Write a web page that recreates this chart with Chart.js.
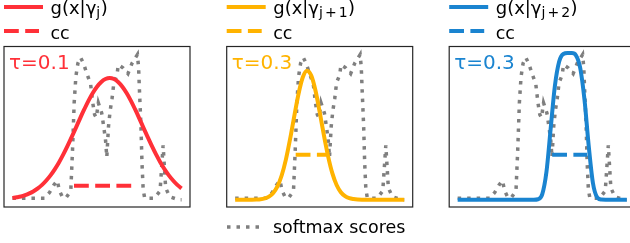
<!DOCTYPE html>
<html>
<head>
<meta charset="utf-8">
<script src="https://cdn.jsdelivr.net/npm/chart.js@4.4.1/dist/chart.umd.min.js"></script>
<style>
  html, body { margin: 0; padding: 0; background: #fff; overflow: hidden; width: 630px; height: 243px; }
  canvas { position: absolute; left: 0; top: 0; }
</style>
</head>
<body>
<canvas id="p0" width="640" height="243" style="width:640px;height:243px"></canvas>
<canvas id="p1" width="640" height="243" style="width:640px;height:243px"></canvas>
<canvas id="p2" width="640" height="243" style="width:640px;height:243px"></canvas>
<script>
// sample positions (frame units) for the g(x|γ) curves
const xs = [0, 2.5, 5, 7.5, 10, 12.5, 15, 17.5, 20, 22.5, 25, 27.5, 30, 32.5, 35, 37.5, 40,
  42.5, 45, 47.5, 50, 52.5, 55, 57.5, 60, 62.5, 65, 67.5, 70, 72.5, 75, 77.5, 80, 82.5,
  85, 87.5, 90, 92.5, 95, 97.5, 100];

const gaussJ = [0.011, 0.016, 0.022, 0.031, 0.043, 0.058, 0.077, 0.101, 0.131, 0.166, 0.207,
  0.254, 0.307, 0.365, 0.427, 0.490, 0.555, 0.617, 0.676, 0.728, 0.771, 0.803, 0.823, 0.830,
  0.823, 0.803, 0.771, 0.728, 0.676, 0.617, 0.555, 0.490, 0.427, 0.365, 0.307, 0.254, 0.207,
  0.166, 0.131, 0.101, 0.077];

const gaussJ1 = [0, 0, 0, 0, 0, 0.001, 0.003, 0.009, 0.021, 0.046, 0.091, 0.165, 0.273, 0.414,
  0.572, 0.723, 0.835, 0.880, 0.847, 0.745, 0.598, 0.438, 0.294, 0.179, 0.100, 0.051, 0.024,
  0.010, 0.004, 0.001, 0, 0, 0, 0, 0, 0, 0, 0, 0, 0, 0];

const gaussJ2 = [0, 0, 0, 0, 0, 0, 0, 0, 0, 0, 0, 0, 0, 0, 0, 0, 0, 0, 0, 0.003, 0.036, 0.188,
  0.484, 0.776, 0.941, 0.994, 1.0, 1.0, 0.984, 0.898, 0.683, 0.368, 0.114, 0.016, 0.001,
  0, 0, 0, 0, 0, 0];

// softmax scores (same in every panel)
const softX = [0, 7, 14, 19, 22, 24.5, 26.5, 27.8, 29.5, 31.5, 34.5, 35.5, 36.5, 37.5, 38.7,
  40.3, 42, 44, 46.2, 47.5, 48.6, 49.6, 50.8, 52.8, 54.2, 55.1, 55.8, 56.8, 57.8, 58.9, 60,
  61.8, 62.6, 65.3, 68.3, 70.7, 73.9, 74.6, 75.2, 76, 76.6, 77.3, 78.2, 84, 87.3, 89.1, 90.6,
  93, 98, 100];
const softY = [0.01, 0.01, 0.01, 0.01, 0.05, 0.10, 0.13, 0.06, 0.02, 0.01, 0.06, 0.33, 0.66,
  0.84, 0.93, 0.97, 0.93, 0.86, 0.79, 0.66, 0.58, 0.56, 0.66, 0.59, 0.48, 0.40, 0.29, 0.50,
  0.61, 0.69, 0.80, 0.85, 0.92, 0.90, 0.86, 0.93, 0.99, 0.90, 0.72, 0.50, 0.25, 0.07, 0.01,
  0.01, 0.06, 0.37, 0.08, 0.02, 0.0, 0.0];

// cc segments
const ccX = [[36.4, 72.5], [35.8, 54.1], [55.9, 76.6]];
const ccY = [0.095, 0.306, 0.306];

const curves = [gaussJ, gaussJ1, gaussJ2];
const taus = ["τ=0.1", "τ=0.3", "τ=0.3"];
const subs = [["j"], ["j", "+", "1"], ["j", "+", "2"]];
const colors = ["#ff3038", "#ffb300", "#1a84d0"];
const gray = "#7f7f7f";

const panelLeft = [4, 226.7, 449.2];
const panelW = 186;
const panelTop = 46.5;
const panelBottom = 207;
const FONT = '"DejaVu Sans", sans-serif';

function drawLabel(ctx, L, i) {
  const c = colors[i];
  ctx.save();
  // handles
  ctx.strokeStyle = c;
  ctx.lineWidth = 4;
  ctx.lineCap = "butt";
  ctx.beginPath(); ctx.moveTo(L, 7); ctx.lineTo(L + 39, 7); ctx.stroke();
  ctx.setLineDash([14.8, 6.4]);
  ctx.beginPath(); ctx.moveTo(L, 31); ctx.lineTo(L + 35, 31); ctx.stroke();
  ctx.setLineDash([]);

  // legend texts
  ctx.fillStyle = "#000";
  ctx.textBaseline = "alphabetic";
  ctx.font = "18px " + FONT;
  let x = L + 46.5;
  ctx.fillText("g(x|γ", x, 13.5);
  x += ctx.measureText("g(x|γ").width;
  ctx.font = "14px " + FONT;
  subs[i].forEach(s => {
    if (s === "+") x += 2;
    ctx.fillText(s, x, 17);
    x += ctx.measureText(s).width;
    if (s === "+") x += 2;
  });
  ctx.font = "18px " + FONT;
  ctx.fillText(")", x + 0.5, 13.5);
  ctx.font = "17.5px " + FONT;
  ctx.fillText("cc", L + 46.5, 38.5);

  // tau
  ctx.fillStyle = c;
  ctx.font = "20px " + FONT;
  ctx.fillText(taus[i], L + 5, 69);
  ctx.restore();
}

function makePanel(i) {
  const L = panelLeft[i];
  const boxPlugin = {
    id: "box" + i,
    beforeDatasetsDraw(chart) {
      const a = chart.chartArea;
      const ctx = chart.ctx;
      ctx.save();
      ctx.strokeStyle = "#262626";
      ctx.lineWidth = 1.2;
      ctx.strokeRect(a.left, a.top, a.right - a.left, a.bottom - a.top);
      ctx.restore();
    },
    afterDraw(chart) {
      const ctx = chart.ctx;
      drawLabel(ctx, L, i);
      if (i === 1) {
        ctx.save();
        ctx.strokeStyle = gray;
        ctx.lineWidth = 3.5;
        ctx.setLineDash([3.5, 6]);
        ctx.beginPath(); ctx.moveTo(227, 227); ctx.lineTo(262, 227); ctx.stroke();
        ctx.setLineDash([]);
        ctx.fillStyle = "#000";
        ctx.font = "17.5px " + FONT;
        ctx.fillText("softmax scores", 273, 233);
        ctx.restore();
      }
    }
  };

  new Chart(document.getElementById("p" + i), {
    type: "line",
    data: {
      datasets: [
        {
          data: xs.map((x, k) => ({ x: x, y: curves[i][k] })),
          borderColor: colors[i],
          borderWidth: 4,
          cubicInterpolationMode: "monotone",
          pointRadius: 0
        },
        {
          data: ccX[i].map(x => ({ x: x, y: ccY[i] })),
          borderColor: colors[i],
          borderWidth: 4,
          borderDash: [14.8, 6.4],
          borderCapStyle: "butt",
          pointRadius: 0
        },
        {
          data: softX.map((x, k) => ({ x: x, y: softY[k] })),
          borderColor: gray,
          borderWidth: 3.5,
          borderDash: [3.5, 6],
          borderCapStyle: "butt",
          tension: 0,
          pointRadius: 0
        }
      ]
    },
    options: {
      responsive: false,
      animation: false,
      events: [],
      layout: {
        padding: { left: L, right: 640 - (L + panelW), top: panelTop, bottom: 243 - panelBottom }
      },
      scales: {
        x: { type: "linear", min: -5, max: 105, display: false },
        y: { min: -0.05, max: 1.045, display: false }
      },
      plugins: { legend: { display: false }, tooltip: { enabled: false } }
    },
    plugins: [boxPlugin]
  });
}

[0, 1, 2].forEach(makePanel);
</script>
</body>
</html>
